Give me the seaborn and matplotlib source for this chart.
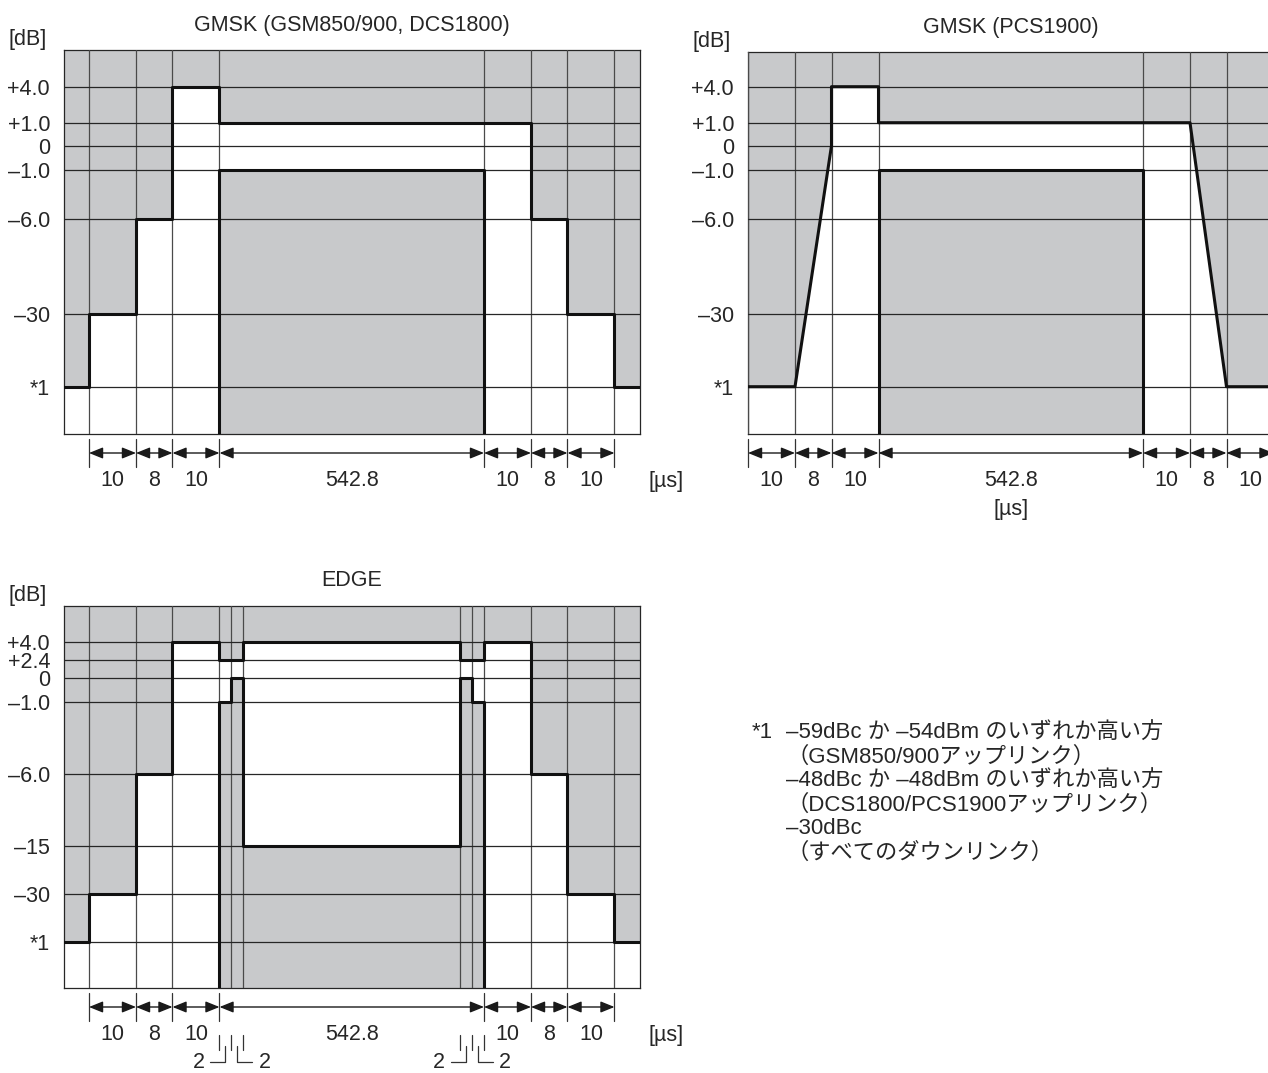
import numpy as np
import matplotlib
matplotlib.use("Agg")
import matplotlib.pyplot as plt
import seaborn as sns

# --- data: durations in us, levels in dB ---
FLOOR = -59  # level "*1" (see footnote)

seg_us = [10, 8, 10, 542.8, 10, 8, 10]
seg_labels = ["10", "8", "10", "542.8", "10", "8", "10"]

# GMSK GSM850/900, DCS1800 : margin + 7 segments + margin
gmsk_upper_db = [FLOOR, -30, -6, 4, 1, 1, -6, -30, FLOOR]
gmsk_lower_db = [-1]  # over the 542.8 us useful part

# GMSK PCS1900 : upper mask vertices (ramps), lower mask level
pcs_t = [-28, -18, -10, -10, 0, 0, 552.8, 560.8, 570.8]
pcs_db = [FLOOR, FLOOR, 0, 4, 4, 1, 1, FLOOR, FLOOR]
pcs_lower_db = [-1]

# EDGE : useful part split 2 / 2 / 534.8 / 2 / 2
edge_seg_us = [10, 8, 10, 2, 2, 534.8, 2, 2, 10, 8, 10]
edge_upper_db = [FLOOR, -30, -6, 4, 2.4, 2.4, 4, 2.4, 2.4, 4, -6, -30, FLOOR]
edge_lower_db = [-1, 0, -15, 0, -1]

gmsk_ticks = [4, 1, 0, -1, -6, -30, FLOOR]
gmsk_ticklabels = ["+4.0", "+1.0", "0", "–1.0", "–6.0", "–30", "*1"]
edge_ticks = [4, 2.4, 0, -1, -6, -15, -30, FLOOR]
edge_ticklabels = ["+4.0", "+2.4", "0", "–1.0", "–6.0", "–15", "–30", "*1"]

titles = ["GMSK (GSM850/900, DCS1800)", "GMSK (PCS1900)", "EDGE"]

note_lines = [
    "–59dBc か –54dBm のいずれか高い方",
    "（GSM850/900アップリンク）",
    "–48dBc か –48dBm のいずれか高い方",
    "（DCS1800/PCS1900アップリンク）",
    "–30dBc",
    "（すべてのダウンリンク）",
]

# --- layout (schematic, not to scale) ---
W, H = 1268, 1073
FS = 15.5
GRAY = "#c8c9cb"
seg_px = {10: 47, 8: 36.5, 2: 12, 534.8: 216.5}
MARGIN_PX = 25
gmsk_level_px = [47.3, 120, 215, 264.3, 288.3, 311.3, 347.3]   # for sorted gmsk levels
edge_level_px = [45.6, 94, 142, 214, 286.3, 309.6, 328.3, 345.7]

sns.set_theme(style="white")
plt.rcParams["font.family"] = ["Liberation Sans", "Noto Sans CJK JP"]


def make_funcs(vals, px, slope):
    v = np.r_[vals[0] - 1e4, vals, vals[-1] + 1e4]
    p = np.r_[px[0] - 1e4 * slope, px, px[-1] + 1e4 * slope]
    return (lambda a: np.interp(a, v, p)), (lambda a: np.interp(a, p, v))


T0 = -sum(seg_us[:3])
edge_t = T0 + np.cumsum([0] + edge_seg_us)
edge_p = MARGIN_PX + np.cumsum([0] + [seg_px[d] for d in edge_seg_us])
fx, ix = make_funcs(edge_t, edge_p, seg_px[10] / 10)
fy_g, iy_g = make_funcs(sorted(gmsk_ticks), gmsk_level_px, 4.0)
fy_e, iy_e = make_funcs(sorted(edge_ticks), edge_level_px, 4.0)

bounds = T0 + np.cumsum([0] + seg_us)


def steps(edges, levels):
    xs, ys = [], []
    for a, b, v in zip(edges[:-1], edges[1:], levels):
        xs += [a, b]
        ys += [v, v]
    return np.array(xs, float), np.array(ys, float)


fig = plt.figure(figsize=(W / 100, H / 100), dpi=100)


def add_panel(left, top, width, height):
    ax = fig.add_axes([left / W, 1 - (top + height) / H, width / W, height / H])
    ax.pw, ax.ph = width, height
    return ax


def draw_mask(ax, ux, uy, lx, ly, ybot, ytop):
    ax.fill_between(ux, uy, ytop, color=GRAY, lw=0, zorder=1)
    ax.fill_between(lx, ybot, ly, color=GRAY, lw=0, zorder=1)
    sns.lineplot(x=ux, y=uy, sort=False, estimator=None, color="#111111",
                 linewidth=2.2, zorder=3, ax=ax)
    sns.lineplot(x=np.r_[lx[0], lx, lx[-1]], y=np.r_[ybot, ly, ybot], sort=False,
                 estimator=None, color="#111111", linewidth=2.2, zorder=3, ax=ax)


def finish(ax, fy, iy, ticks, ticklabels, xticks, xlim, title):
    ax.set_xscale("function", functions=(fx, ix))
    ax.set_yscale("function", functions=(fy, iy))
    ax.set_xlim(*xlim)
    ax.set_ylim(iy(0), iy(ax.ph))
    ax.set_xticks(xticks)
    ax.set_yticks(ticks, ticklabels)
    ax.tick_params(axis="x", length=0, labelbottom=False)
    ax.tick_params(axis="y", length=0, pad=10, labelsize=FS)
    ax.set_axisbelow(False)
    ax.xaxis.grid(True, color="#4a4a4a", lw=0.9)
    ax.yaxis.grid(True, color="#262626", lw=0.9)
    for s in ax.spines.values():
        s.set_color("#262626")
        s.set_linewidth(0.9)
    ax.set_xlabel("")
    ax.set_ylabel("")
    ax.text(0.5, 1 + 25 / ax.ph, title, transform=ax.transAxes, ha="center",
            va="center", fontsize=FS)
    ax.text(-55 / ax.pw, 1 + 10 / ax.ph, "[dB]", transform=ax.transAxes,
            ha="left", va="center", fontsize=FS)


def dims(ax, tick_bounds, arrow_bounds):
    tr = ax.get_xaxis_transform()
    fr = lambda px: -px / ax.ph
    for t in tick_bounds:
        ax.plot([t, t], [fr(5), fr(33)], transform=tr, color="#333333", lw=0.9,
                clip_on=False)
    for a, b, lab in zip(arrow_bounds[:-1], arrow_bounds[1:], seg_labels):
        ax.annotate("", xy=(b, fr(19)), xytext=(a, fr(19)), xycoords=tr, textcoords=tr,
                    annotation_clip=False,
                    arrowprops=dict(arrowstyle="<|-|>,head_length=0.42,head_width=0.17",
                                    color="#1a1a1a", lw=1.0, shrinkA=0, shrinkB=0,
                                    mutation_scale=20))
        ax.text((a + b) / 2, fr(47), lab, transform=tr, ha="center", va="center",
                fontsize=FS)


# --- panel 1: GMSK GSM850/900, DCS1800 ---
ax1 = add_panel(64, 50, 576, 384)
xl1 = (ix(0), ix(576))
yb, yt = iy_g(0), iy_g(384)
ux, uy = steps([xl1[0], *bounds, xl1[1]], gmsk_upper_db)
lx, ly = steps([bounds[3], bounds[4]], gmsk_lower_db)
draw_mask(ax1, ux, uy, lx, ly, yb, yt)
finish(ax1, fy_g, iy_g, gmsk_ticks, gmsk_ticklabels, bounds, xl1, titles[0])
dims(ax1, bounds, bounds)
ax1.text(1 + 8 / ax1.pw, -47 / ax1.ph, "[µs]", transform=ax1.transAxes,
         ha="left", va="center", fontsize=FS)

# --- panel 2: GMSK PCS1900 ---
w2 = fx(bounds[-1]) - fx(bounds[0])
ax2 = add_panel(748, 52, w2, 382)
yb2, yt2 = iy_g(0), iy_g(382)
lx, ly = steps([bounds[3], bounds[4]], pcs_lower_db)
draw_mask(ax2, np.array(pcs_t, float), np.array(pcs_db, float), lx, ly, yb2, yt2)
finish(ax2, fy_g, iy_g, gmsk_ticks, gmsk_ticklabels, bounds, (bounds[0], bounds[-1]),
       titles[1])
dims(ax2, bounds, bounds)
ax2.text((bounds[3] + bounds[4]) / 2, -75 / ax2.ph, "[µs]",
         transform=ax2.get_xaxis_transform(), ha="center", va="center", fontsize=FS)

# --- panel 3: EDGE ---
ax3 = add_panel(64, 606, 576, 382)
yb3, yt3 = iy_e(0), iy_e(382)
ux, uy = steps([xl1[0], *edge_t, xl1[1]], edge_upper_db)
lx, ly = steps(edge_t[3:9], edge_lower_db)
draw_mask(ax3, ux, uy, lx, ly, yb3, yt3)
finish(ax3, fy_e, iy_e, edge_ticks, edge_ticklabels, edge_t, xl1, titles[2])
dims(ax3, bounds, bounds)
ax3.text(1 + 8 / ax3.pw, -47 / ax3.ph, "[µs]", transform=ax3.transAxes,
         ha="left", va="center", fontsize=FS)

# small 2 us markers under the EDGE useful part
tr3 = ax3.get_xaxis_transform()
fr3 = lambda px: -px / ax3.ph
for grp in (edge_t[3:6], edge_t[6:9]):
    for t in grp:
        ax3.plot([t, t], [fr3(47), fr3(62)], transform=tr3, color="#333333", lw=0.9,
                 clip_on=False)
    m1, m2 = (grp[0] + grp[1]) / 2, (grp[1] + grp[2]) / 2
    for m, sgn, ha in ((m1, -1, "right"), (m2, 1, "left")):
        end = ix(fx(m) + sgn * 15)
        ax3.plot([m, m, end], [fr3(58), fr3(74), fr3(74)], transform=tr3,
                 color="#333333", lw=0.9, clip_on=False)
        ax3.text(ix(fx(m) + sgn * 21), fr3(75), "2", transform=tr3, ha=ha,
                 va="center", fontsize=FS)

# --- footnote ---
fig.text(752 / W, 1 - 733 / H, "*1", ha="left", va="center", fontsize=16)
for i, line in enumerate(note_lines):
    fig.text(786 / W, 1 - (733 + 24 * i) / H, line, ha="left", va="center",
             fontsize=16)

fig.savefig("out.png", dpi=100)
